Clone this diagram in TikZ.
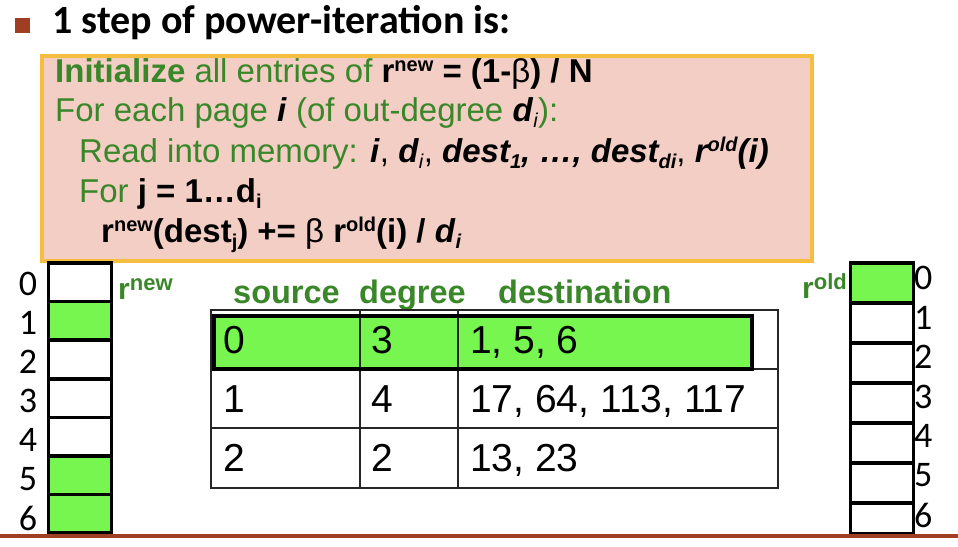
\documentclass[tikz,border=0pt]{standalone}
\usepackage{fontspec}
\setmainfont{Liberation Sans}
\newfontfamily\calibri{Carlito}
\definecolor{tgreen}{RGB}{58,135,42}
\definecolor{cellgreen}{RGB}{118,246,78}
\definecolor{boxfill}{RGB}{242,206,196}
\definecolor{boxedge}{RGB}{246,190,65}
\definecolor{rust}{RGB}{160,62,36}
% raised / lowered small text for superscripts and subscripts
\newcommand{\hi}[1]{\raisebox{0.62ex}{\fontsize{20}{20}\selectfont #1}}
\newcommand{\lo}[1]{\raisebox{-0.35ex}{\fontsize{20}{20}\selectfont #1}}
\newcommand{\bi}[1]{\textbf{\textit{#1}}}
\begin{document}
\begin{tikzpicture}[x=1pt,y=-1pt,
  txt/.style={inner sep=0pt, anchor=base west},
  codeline/.style={txt, font=\fontsize{33}{38}\selectfont},
  arraycell/.style={draw=black, line width=3.5pt, minimum width=63pt, inner sep=0pt},
  idx/.style={inner sep=0pt, font=\calibri\fontsize{36}{36}\selectfont},
  head/.style={txt, font=\bfseries\fontsize{32.5}{38}\selectfont, text=tgreen},
  cellnum/.style={txt, font=\fontsize{39}{42}\selectfont},
  grid/.style={draw=black!85, line width=1.4pt}]
\useasboundingbox (0,0) rectangle (958,546);

% title with bullet
\node[fill=rust, minimum size=15pt, inner sep=0pt] (bullet) at (22.5,25.5) {};
\node[txt, font=\calibri\bfseries\fontsize{40}{40}\selectfont] (title) at (52,33) {1 step of power-iteration is:};

% algorithm box
\node[draw=boxedge, fill=boxfill, line width=4pt, minimum width=770pt, minimum height=205pt, inner sep=0pt, anchor=north west] (algo) at (40,54) {};
\node[codeline] (l1) at (55,82) {{\color{tgreen}\bfseries Initialize} {\color{tgreen}all entries of} \textbf{r\hi{new} = (1-\textmd{β}) / N}};
\node[codeline] (l2) at (55,121) {\color{tgreen}For each page {\color{black}\bi{i}} (of out-degree {\color{black}\bi{d}\lo{\textit{i}}}):};
\node[codeline] (l3) at (79,162) {{\color{tgreen}Read into memory:} \bi{i}, \bi{d}\lo{\textit{i}}, \bi{dest\lo{1}, …, dest\lo{di}}, \bi{r\hi{old}(i)}};
\node[codeline] (l4) at (79,202) {{\color{tgreen}For} \textbf{j = 1…d\lo{i}}};
\node[codeline] (l5) at (101,242) {\textbf{r\hi{new}(dest\lo{j}) += \textmd{β} r\hi{old}(i) / \textit{d}\lo{\textit{i}}}};

% r_new array
\foreach \i/\f in {0/white,1/cellgreen,2/white,3/white,4/white,5/cellgreen,6/cellgreen}{
  \node[arraycell, fill=\f, minimum height=38.6pt] (new\i) at (80,{282.3+38.6*\i}) {};
  \node[idx] (newidx\i) at (28,{284+39*\i}) {\i};
}
\node[txt, font=\bfseries\fontsize{30}{30}\selectfont, text=tgreen] (rnew) at (118,299) {r\raisebox{0.55ex}{\fontsize{22}{22}\selectfont new}};

% r_old array
\foreach \i/\f in {0/cellgreen,1/white,2/white,3/white,4/white,5/white}{
  \node[arraycell, fill=\f, minimum height=40pt] (old\i) at (882,{283+40*\i}) {};
}
\node[arraycell, fill=white, minimum height=31pt] (old6) at (882,518.5) {};
\foreach \i in {0,...,6}{
  \node[idx, anchor=west] (oldidx\i) at (914,{278+39.5*\i}) {\i};
}
\node[txt, font=\bfseries\fontsize{30}{30}\selectfont, text=tgreen] (rold) at (802,298) {r\raisebox{0.55ex}{\fontsize{22}{22}\selectfont old}};

% adjacency table
\node[head] (hsrc) at (233,303) {source};
\node[head] (hdeg) at (359,303) {degree};
\node[head] (hdst) at (498,303) {destination};

\coordinate (tnw) at (211,310);
\coordinate (tse) at (778,488);
\fill[cellgreen] (212,314) rectangle (750,367);
\draw[grid] (tnw) rectangle (tse);
\draw[grid] (211,369) -- (778,369);
\draw[grid] (211,428) -- (778,428);
\draw[grid] (360,310) -- (360,488);
\draw[grid] (458,310) -- (458,488);
\node[draw=black, line width=3.5pt, minimum width=538pt, minimum height=53pt, inner sep=0pt, anchor=north west] (selrow) at (212,314) {};

\node[cellnum] (s0) at (223,353) {0};
\node[cellnum] (d0) at (371,353) {3};
\node[cellnum] (t0) at (470,353) {1, 5, 6};
\node[cellnum] (s1) at (223,412) {1};
\node[cellnum] (d1) at (371,412) {4};
\node[cellnum] (t1) at (470,412) {17, 64, 113, 117};
\node[cellnum] (s2) at (223,471) {2};
\node[cellnum] (d2) at (371,471) {2};
\node[cellnum] (t2) at (470,471) {13, 23};

% footer rule
\draw[rust, line width=3.5pt] (0,536) -- (958,536);
\end{tikzpicture}
\end{document}
